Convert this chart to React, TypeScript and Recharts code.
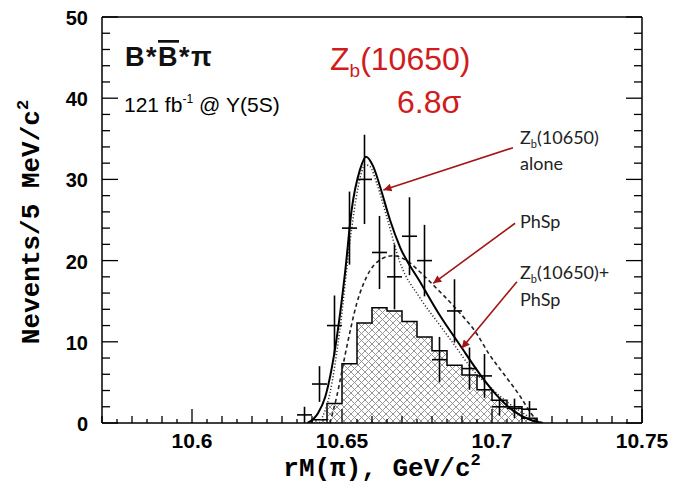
import React from 'react';
import { ComposedChart, XAxis, YAxis, Line, Area, Scatter, ErrorBar, ReferenceLine } from 'recharts';

const X_MIN = 10.57;
const X_MAX = 10.75;
const X_STEP = 0.005;
const X_LABELS = [10.6, 10.65, 10.7, 10.75];
const Y_LABELS = [0, 10, 20, 30, 40, 50];

// measured points, 5 MeV bins
const PT_X = [10.6375, 10.6425, 10.6475, 10.6525, 10.6575, 10.6625, 10.6675, 10.6725, 10.6775, 10.6825, 10.6875, 10.6925, 10.6975, 10.7025, 10.7075, 10.7125];
const PT_Y = [1, 4.8, 12, 24, 30, 21, 18, 23, 20, 7.8, 13.8, 6.7, 5.8, 2.0, 1.8, 1.7];
const PT_ERR = [1, 2.2, 3.7, 4.5, 5.5, 4.5, 4, 4.8, 4.4, 2.8, 3.9, 2.6, 2.7, 1.1, 1.2, 1.0];
const BIN_HALF = 0.0025;

// hatched histogram (left bin edges)
const HIST_EDGES = [10.64, 10.645, 10.65, 10.655, 10.66, 10.665, 10.67, 10.675, 10.68, 10.685, 10.69, 10.695, 10.7, 10.705, 10.71];
const HIST_VALUES = [0.4, 2.4, 7.3, 12.3, 14.2, 13.8, 12.5, 10.6, 8.9, 7.1, 5.9, 4.1, 2.8, 2.0, 0.6];

// solid: Zb(10650) + PhSp fit
const FIT_X = [10.6385, 10.642, 10.6444, 10.6478, 10.6511, 10.6532, 10.656, 10.658, 10.6604, 10.6627, 10.666, 10.6693, 10.676, 10.6827, 10.6893, 10.696, 10.7016, 10.7071, 10.7127, 10.717];
const FIT_Y = [0, 1.2, 3.2, 9.4, 18.8, 26.2, 31.2, 32.8, 31.6, 29.1, 25.0, 21.7, 17.4, 13.2, 9.6, 6.0, 3.4, 1.5, 0.4, 0];

// dotted: Zb(10650) alone
const ZB_X = [10.6425, 10.646, 10.6493, 10.6527, 10.6554, 10.6577, 10.6593, 10.6616, 10.6649, 10.6693, 10.676, 10.6827, 10.6871, 10.693, 10.7, 10.705, 10.71, 10.714, 10.717];
const ZB_Y = [0, 3.7, 11.5, 22.5, 29.1, 31.8, 31.6, 29.5, 25.4, 19.8, 15.4, 12.0, 9.8, 6.8, 4.2, 2.6, 1.3, 0.4, 0];

// dashed: phase space
const PHSP_X = [10.646, 10.6482, 10.6516, 10.6549, 10.6582, 10.6627, 10.6671, 10.6716, 10.676, 10.6804, 10.6882, 10.6949, 10.699, 10.704, 10.709, 10.713, 10.7155];
const PHSP_Y = [0, 3.2, 9.4, 14.7, 18.0, 20.1, 20.6, 20.0, 18.6, 17.0, 14.0, 11.0, 8.5, 6.0, 3.5, 1.2, 0];

const ARROWS = [
  { from: { x: 10.707, y: 33.9 }, to: { x: 10.6638, y: 28.7 } },
  { from: { x: 10.7077, y: 24.6 }, to: { x: 10.6804, y: 17.2 } },
  { from: { x: 10.7083, y: 17.4 }, to: { x: 10.6899, y: 9.2 } },
];

const X_TICKS = Array.from({ length: Math.round((X_MAX - X_MIN) / X_STEP) + 1 }, (_, k) => +(X_MIN + k * X_STEP).toFixed(3));
const Y_TICKS = Array.from({ length: 26 }, (_, i) => i * 2);

const toXY = (xs: number[], ys: number[]) => xs.map((x, i) => ({ x, y: ys[i] }));

const points = PT_X.map((x, i) => ({ x, y: PT_Y[i], ex: BIN_HALF, ey: PT_ERR[i] }));
const last = HIST_EDGES.length - 1;
const histogram = [
  { x: HIST_EDGES[0], y: 0 },
  ...toXY(HIST_EDGES, HIST_VALUES),
  { x: +(HIST_EDGES[last] + X_STEP).toFixed(3), y: HIST_VALUES[last] },
  { x: +(HIST_EDGES[last] + X_STEP).toFixed(3), y: 0 },
];

const SANS = '"Liberation Sans", Arial, sans-serif';
const MONO = '"Liberation Mono", "Courier New", monospace';
const RED = '#cf1d1d';
const ARROW = '#a31515';

const isXLabel = (v: number) => X_LABELS.some((l) => Math.abs(l - v) < 1e-6);

function XTick({ x, y, payload, top }: any) {
  const k = Math.round((payload.value - X_MIN) / X_STEP);
  const major = isXLabel(payload.value);
  const len = major ? 14 : k % 2 === 0 ? 7 : 4;
  const dir = top ? 1 : -1;
  return (
    <g>
      <line x1={x} x2={x} y1={y} y2={y + dir * len} stroke="#000" strokeWidth={1.3} />
      {major && !top && (
        <text x={x} y={y + 25} textAnchor="middle" fontFamily={SANS} fontWeight="bold" fontSize={21} fill="#000">
          {String(payload.value)}
        </text>
      )}
    </g>
  );
}

function YTick({ x, y, payload, right }: any) {
  const major = Y_LABELS.includes(payload.value);
  const len = major ? 16 : 8;
  const dir = right ? -1 : 1;
  return (
    <g>
      <line x1={x} x2={x + dir * len} y1={y} y2={y} stroke="#000" strokeWidth={1.3} />
      {major && !right && (
        <text x={x - 14} y={y + 8} textAnchor="end" fontFamily={SANS} fontWeight="bold" fontSize={20} fill="#000">
          {payload.value}
        </text>
      )}
    </g>
  );
}

const axisLine = { stroke: '#000', strokeWidth: 1.5 };

export default function App() {
  return (
    <div style={{ position: 'relative', width: 662, height: 478 }}>
      <ComposedChart width={662} height={478} margin={{ top: 8, right: 27, bottom: 23, left: 34 }}>
        <defs>
          <pattern id="hatch" width="7" height="7" patternUnits="userSpaceOnUse">
            <path d="M0,0 L7,7 M7,0 L0,7" stroke="#8a8a8a" strokeWidth={0.9} />
          </pattern>
          <marker id="arrowHead" viewBox="0 0 10 10" refX="10" refY="5" markerWidth="11" markerHeight="8" orient="auto" markerUnits="userSpaceOnUse">
            <path d="M0,0 L10,5 L0,10 z" fill={ARROW} />
          </marker>
        </defs>
        <XAxis
          dataKey="x"
          type="number"
          domain={[X_MIN, X_MAX]}
          ticks={X_TICKS}
          interval={0}
          allowDataOverflow
          height={40}
          tickSize={0}
          tickMargin={0}
          tickLine={false}
          axisLine={axisLine}
          tick={(p: any) => <XTick {...p} />}
        />
        <XAxis
          xAxisId="top"
          orientation="top"
          type="number"
          domain={[X_MIN, X_MAX]}
          ticks={X_TICKS}
          interval={0}
          allowDataOverflow
          height={1}
          tickSize={0}
          tickMargin={0}
          tickLine={false}
          axisLine={axisLine}
          tick={(p: any) => <XTick {...p} top />}
        />
        <YAxis
          dataKey="y"
          type="number"
          domain={[0, 50]}
          ticks={Y_TICKS}
          interval={0}
          allowDataOverflow
          width={60}
          tickSize={0}
          tickMargin={0}
          tickLine={false}
          axisLine={axisLine}
          tick={(p: any) => <YTick {...p} />}
        />
        <YAxis
          yAxisId="right"
          orientation="right"
          type="number"
          domain={[0, 50]}
          ticks={Y_TICKS}
          interval={0}
          allowDataOverflow
          width={1}
          tickSize={0}
          tickMargin={0}
          tickLine={false}
          axisLine={axisLine}
          tick={(p: any) => <YTick {...p} right />}
        />
        <Area
          data={histogram}
          dataKey="y"
          type="stepAfter"
          stroke="#000"
          strokeWidth={1.5}
          fill="url(#hatch)"
          fillOpacity={1}
          isAnimationActive={false}
        />
        <Line data={toXY(PHSP_X, PHSP_Y)} dataKey="y" type="monotone" stroke="#222" strokeWidth={1.6} strokeDasharray="4 3" dot={false} isAnimationActive={false} />
        <Line data={toXY(ZB_X, ZB_Y)} dataKey="y" type="monotone" stroke="#333" strokeWidth={1.5} strokeDasharray="1.2 2" dot={false} isAnimationActive={false} />
        <Line data={toXY(FIT_X, FIT_Y)} dataKey="y" type="monotone" stroke="#000" strokeWidth={2} dot={false} isAnimationActive={false} />
        <Scatter data={points} fill="#000" shape={() => <g />} isAnimationActive={false}>
          <ErrorBar dataKey="ey" direction="y" width={0} stroke="#000" strokeWidth={1.6} isAnimationActive={false} />
          <ErrorBar dataKey="ex" direction="x" width={0} stroke="#000" strokeWidth={1.6} isAnimationActive={false} />
        </Scatter>
        {ARROWS.map((a, i) => (
          <ReferenceLine
            key={i}
            segment={[a.from, a.to]}
            stroke={ARROW}
            shape={(p: any) => (
              <line x1={p.x1} y1={p.y1} x2={p.x2} y2={p.y2} stroke={ARROW} strokeWidth={1.6} markerEnd="url(#arrowHead)" />
            )}
          />
        ))}
      </ComposedChart>
      <svg width={662} height={478} style={{ position: 'absolute', left: 0, top: 0, pointerEvents: 'none' }}>
        <text transform="translate(31,214) rotate(-90)" textAnchor="middle" fontFamily={MONO} fontWeight="bold" fontSize={26} fill="#000">
          Nevents/5 MeV/c<tspan dy={-11} fontSize={17}>2</tspan>
        </text>
        <text x={374} y={468} textAnchor="middle" fontFamily={MONO} fontWeight="bold" fontSize={26} fill="#000">
          rM(π),  GeV/c<tspan dy={-11} fontSize={17}>2</tspan>
        </text>
        <text x={117} y={58} fontFamily={SANS} fontWeight="bold" fontSize={27} fill="#111" letterSpacing={1.5}>
          B*<tspan style={{ textDecoration: 'overline' }}>B</tspan>*π
        </text>
        <text x={116} y={104} fontFamily={SANS} fontSize={21} fill="#000">
          121 fb<tspan dy={-9} fontSize={12}>-1</tspan><tspan dy={9}> @ Υ(5S)</tspan>
        </text>
        <text x={322} y={62} fontFamily={SANS} fontSize={32} fill={RED}>
          Z<tspan dy={7} fontSize={19}>b</tspan><tspan dy={-7}>(10650)</tspan>
        </text>
        <text x={389} y={105} fontFamily={SANS} fontSize={32} fill={RED}>
          6.8σ
        </text>
        <g fontFamily="Lato, sans-serif" fontSize={18} fill="#222">
          <text x={512} y={136}>
            Z<tspan dy={4} fontSize={11}>b</tspan><tspan dy={-4}>(10650)</tspan>
          </text>
          <text x={512} y={162}>alone</text>
          <text x={512} y={220}>PhSp</text>
          <text x={512} y={271}>
            Z<tspan dy={4} fontSize={11}>b</tspan><tspan dy={-4}>(10650)+</tspan>
          </text>
          <text x={512} y={298}>PhSp</text>
        </g>
      </svg>
    </div>
  );
}
